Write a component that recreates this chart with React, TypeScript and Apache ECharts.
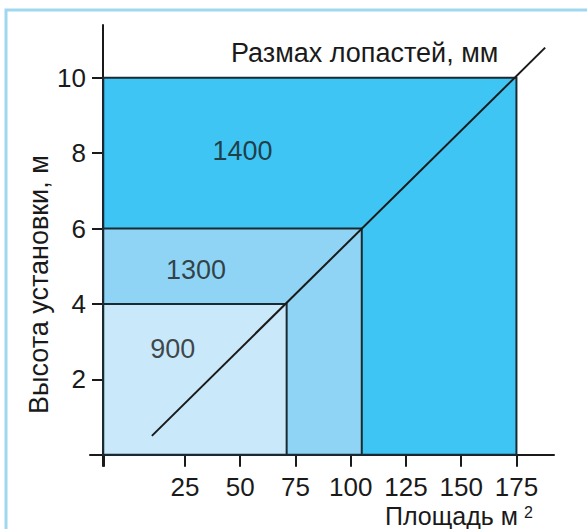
import React, { useEffect, useRef } from "react";
import * as echarts from "echarts";

const areaLabels = ["1400", "1300", "900"];
const areaRight = [175, 105, 71];
const areaTop = [10, 6, 4];
const areaColors = ["#3ec5f3", "#8fd4f4", "#c9e8fa"];
const labelPosX = [51, 30, 19.5];
const labelPosY = [8.05, 4.9, 2.8];
const diagonal = [
  [10, 0.5],
  [188, 10.8],
];
const xTicks = [25, 50, 75, 100, 125, 150, 175];
const yTicks = [2, 4, 6, 8, 10];
const axisStart = -12;

const FONT = "'Liberation Sans', Arial, Helvetica, sans-serif";
const INK = "#1a1a1a";

export default function App() {
  const ref = useRef<HTMLDivElement>(null);
  useEffect(() => {
    const chart = echarts.init(ref.current!, null, { renderer: "svg" });
    const rects = areaLabels.map((name, i) => ({
      name,
      value: [axisStart, 0, areaRight[i], areaTop[i]],
      itemStyle: { color: areaColors[i] },
    }));
    chart.setOption({
      animation: false,
      backgroundColor: "#ffffff",
      grid: { left: 90, top: 25, width: 464, height: 441 },
      xAxis: {
        type: "value",
        min: -18,
        max: 192,
        splitLine: { show: false },
        axisLine: { onZero: true, lineStyle: { color: INK, width: 2 } },
        axisTick: {
          customValues: [axisStart, ...xTicks],
          length: 12,
          lineStyle: { color: INK, width: 2 },
        },
        axisLabel: {
          customValues: xTicks,
          margin: 11,
          fontSize: 26,
          lineHeight: 20,
          color: INK,
          fontFamily: FONT,
        },
      },
      yAxis: {
        type: "value",
        min: -0.3,
        max: 11.4,
        offset: -13,
        splitLine: { show: false },
        axisLine: { show: true, onZero: false, lineStyle: { color: INK, width: 2 } },
        axisTick: {
          customValues: yTicks,
          length: 11,
          lineStyle: { color: INK, width: 2 },
        },
        axisLabel: {
          customValues: yTicks,
          margin: 17,
          fontSize: 26,
          color: INK,
          fontFamily: FONT,
        },
      },
      title: {
        text: "Размах лопастей, мм",
        left: 226,
        top: 34,
        textStyle: {
          fontSize: 27,
          fontWeight: "normal",
          color: INK,
          fontFamily: FONT,
        },
      },
      graphic: [
        {
          type: "rect",
          z: -10,
          shape: { x: 6, y: 10, width: 620, height: 600 },
          style: { fill: "none", stroke: "#9dd8ef", lineWidth: 3 },
        },
        {
          type: "text",
          rotation: Math.PI / 2,
          x: 25,
          y: 414,
          style: {
            text: "Высота установки, м",
            fontSize: 27,
            fill: INK,
            fontFamily: FONT,
            textVerticalAlign: "top",
          },
        },
        {
          type: "text",
          x: 385,
          y: 505,
          style: {
            text: "Площадь м",
            fontSize: 25,
            lineHeight: 22,
            fontFamily: FONT,
            fill: INK,
            textVerticalAlign: "top",
          },
        },
        {
          type: "text",
          x: 524,
          y: 505,
          style: {
            text: "2",
            fontSize: 16,
            lineHeight: 14,
            fontFamily: FONT,
            fill: INK,
            textVerticalAlign: "top",
          },
        },
      ],
      series: [
        {
          type: "custom",
          z: 1,
          data: rects,
          renderItem: (params: any, api: any) => {
            const p0 = api.coord([api.value(0), api.value(1)]);
            const p1 = api.coord([api.value(2), api.value(3)]);
            return {
              type: "rect",
              shape: {
                x: p0[0],
                y: p1[1],
                width: p1[0] - p0[0],
                height: p0[1] - p1[1],
              },
              style: {
                fill: api.visual("color"),
                stroke: "#1a2a33",
                lineWidth: 2,
              },
            };
          },
        },
        {
          type: "scatter",
          z: 3,
          symbolSize: 0,
          data: areaLabels.map((t, i) => ({ value: [labelPosX[i], labelPosY[i]], name: t })),
          label: {
            show: true,
            position: "inside",
            formatter: (p: any) => p.name,
            fontSize: 27,
            color: INK,
            fontFamily: FONT,
          },
        },
        {
          type: "line",
          z: 4,
          data: diagonal,
          showSymbol: false,
          symbol: "none",
          lineStyle: { color: INK, width: 2 },
        },
      ],
    });
    return () => chart.dispose();
  }, []);
  return <div ref={ref} style={{ width: 587, height: 529, position: "absolute", left: 0, top: 0 }} />;
}
